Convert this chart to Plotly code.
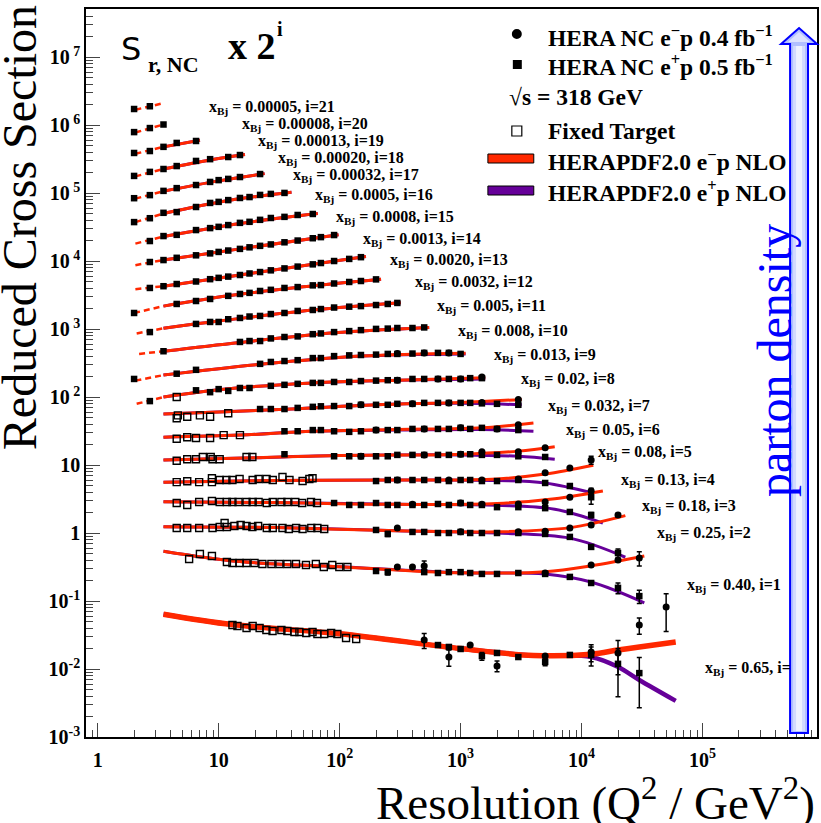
import plotly.graph_objects as go

# ---------------- data (sigma_r; plotted as sigma_r * 2^i) ----------------
BIN_I = [21, 20, 19, 18, 17, 16, 15, 14, 13, 12, 11, 10, 9, 8, 7, 6, 5, 4, 3, 2, 1, 0]
BIN_XBJ = ["0.00005", "0.00008", "0.00013", "0.00020", "0.00032", "0.0005", "0.0008",
           "0.0013", "0.0020", "0.0032", "0.005", "0.008", "0.013", "0.02", "0.032",
           "0.05", "0.08", "0.13", "0.18", "0.25", "0.40", "0.65"]
BIN_I_TEXT = ["21", "20", "19", "18", "17", "16", "15", "14", "13", "12", "11", "10",
              "9", "8", "7", "6", "5", "4", "3", "2", "1", ""]

# HERA NC e+p (filled squares)
EP_Q2 = [
    [2, 2.7],
    [2, 2.7, 3.5],
    [2, 2.7, 3.5, 4.5, 6.5],
    [2, 2.7, 3.5, 4.5, 6.5, 8.5, 12, 15],
    [2, 2.7, 3.5, 4.5, 6.5, 8.5, 10, 12, 15, 22],
    [2, 2.7, 3.5, 4.5, 6.5, 8.5, 10, 12, 15, 18, 22, 27, 35],
    [2.7, 3.5, 4.5, 6.5, 8.5, 10, 12, 15, 18, 22, 27, 35, 45, 60],
    [2.7, 3.5, 4.5, 6.5, 8.5, 10, 12, 15, 18, 22, 27, 35, 45, 60, 70, 90],
    [2.7, 3.5, 4.5, 6.5, 8.5, 10, 12, 15, 18, 22, 27, 35, 45, 60, 70, 90, 120, 150],
    [2, 4.5, 6.5, 8.5, 12, 15, 18, 22, 27, 35, 45, 60, 70, 90, 120, 150, 200],
    [2.7, 6.5, 8.5, 10, 12, 15, 18, 22, 27, 35, 45, 60, 70, 90, 120, 150, 200, 250, 300],
    [3.5, 15, 18, 22, 27, 35, 45, 60, 70, 90, 120, 150, 200, 250, 300, 400, 500],
    [2, 4.5, 6.5, 22, 27, 35, 45, 60, 70, 90, 120, 150, 200, 250, 300, 400, 500, 650, 800, 1000],
    [2.7, 6.5, 8.5, 10, 12, 15, 18, 27, 35, 45, 60, 70, 90, 120, 150, 200, 250, 300, 400, 500,
     650, 800, 1000, 1200, 1500],
    [22, 27, 35, 45, 60, 70, 90, 120, 150, 200, 250, 300, 400, 500, 650, 800, 1000, 1200, 1500,
     2000, 3000],
    [35, 45, 60, 70, 90, 120, 150, 200, 250, 300, 400, 500, 650, 800, 1000, 1200, 1500, 2000, 3000],
    [35, 90, 120, 150, 200, 250, 300, 400, 500, 650, 800, 1000, 1200, 1500, 2000, 3000, 5000],
    [200, 250, 300, 400, 500, 650, 800, 1000, 1200, 1500, 2000, 3000, 5000, 8000, 12000],
    [90, 120, 150, 200, 250, 300, 400, 500, 650, 800, 1000, 1200, 1500, 2000, 3000, 5000, 8000, 12000],
    [200, 250, 400, 500, 650, 800, 1000, 1200, 1500, 2000, 3000, 5000, 8000, 12000, 20000],
    [200, 250, 500, 650, 800, 1000, 1200, 1500, 2000, 3000, 5000, 8000, 12000, 20000, 30000],
    [650, 800, 1000, 1500, 2000, 3000, 5000, 8000, 12000, 20000, 30000],
]
EP_SIG = [
    [0.82, 0.90],
    [0.75, 0.86, 0.97],
    [0.74, 0.79, 0.91, 1.04, 1.11],
    [0.68, 0.78, 0.86, 0.95, 1.13, 1.20, 1.29, 1.38],
    [0.64, 0.71, 0.82, 0.90, 1.00, 1.11, 1.18, 1.23, 1.31, 1.45],
    [0.57, 0.65, 0.78, 0.80, 0.95, 1.09, 1.13, 1.20, 1.29, 1.33, 1.43, 1.48, 1.53],
    [0.60, 0.71, 0.74, 0.87, 0.93, 0.97, 1.03, 1.11, 1.15, 1.23, 1.31, 1.36, 1.45, 1.50],
    [0.59, 0.63, 0.68, 0.74, 0.79, 0.83, 0.87, 0.92, 0.97, 1.02, 1.07, 1.15, 1.22, 1.32, 1.37, 1.47],
    [0.49, 0.52, 0.56, 0.61, 0.66, 0.69, 0.72, 0.76, 0.80, 0.84, 0.89, 0.95, 1.01, 1.09, 1.14,
     1.22, 1.31, 1.39],
    [0.42, 0.57, 0.63, 0.675, 0.75, 0.80, 0.83, 0.885, 0.92, 0.98, 1.01, 1.07, 1.08, 1.14, 1.20,
     1.24, 1.31],
    [0.44, 0.58, 0.62, 0.62, 0.68, 0.71, 0.745, 0.76, 0.81, 0.84, 0.90, 0.93, 0.96, 1.01, 1.04,
     1.06, 1.10, 1.14, 1.18],
    [0.46, 0.63, 0.65, 0.65, 0.71, 0.745, 0.76, 0.82, 0.84, 0.88, 0.91, 0.94, 0.98, 0.99, 1.01,
     1.01, 1.03],
    [0.36, 0.43, 0.49, 0.60, 0.64, 0.66, 0.68, 0.73, 0.73, 0.78, 0.80, 0.81, 0.82, 0.84, 0.84,
     0.85, 0.87, 0.87, 0.87, 0.84],
    [0.34, 0.49, 0.46, 0.51, 0.48, 0.53, 0.53, 0.57, 0.59, 0.61, 0.63, 0.63, 0.65, 0.65, 0.67,
     0.68, 0.69, 0.69, 0.72, 0.72, 0.72, 0.72, 0.72, 0.74, 0.74],
    [0.52, 0.52, 0.52, 0.54, 0.56, 0.57, 0.575, 0.575, 0.60, 0.60, 0.60, 0.62, 0.62, 0.64, 0.64,
     0.64, 0.64, 0.64, 0.63, 0.62, 0.60],
    [0.49, 0.49, 0.51, 0.51, 0.49, 0.48, 0.49, 0.51, 0.51, 0.51, 0.53, 0.53, 0.53, 0.53, 0.55,
     0.53, 0.55, 0.53, 0.51],
    [0.45, 0.42, 0.42, 0.42, 0.42, 0.42, 0.44, 0.44, 0.44, 0.44, 0.44, 0.45, 0.45, 0.44, 0.44,
     0.42, 0.41],
    [0.363, 0.376, 0.376, 0.376, 0.376, 0.376, 0.363, 0.376, 0.376, 0.363, 0.363, 0.376, 0.34,
     0.307, 0.21],
    [0.345, 0.323, 0.323, 0.345, 0.323, 0.323, 0.323, 0.323, 0.334, 0.323, 0.345, 0.323, 0.323,
     0.30, 0.30, 0.29, 0.255, 0.23],
    [0.277, 0.242, 0.259, 0.259, 0.25, 0.25, 0.259, 0.25, 0.25, 0.25, 0.25, 0.242, 0.219, 0.156, 0.127],
    [0.138, 0.133, 0.133, 0.129, 0.133, 0.133, 0.129, 0.125, 0.125, 0.129, 0.125, 0.113, 0.092,
     0.078, 0.059],
    [0.0225, 0.0211, 0.0197, 0.0155, 0.0172, 0.015, 0.0127, 0.0161, 0.0161, 0.0119, 0.0087],
]
EP_ERR = [
    [], [], [], [], [], [], [], [], [], [], [], [], [], [], [], [], [],
    [0, 0, 0, 0, 0, 0, 0, 0, 0, 0, 0, 0, 0, 0, 0.045],
    [0, 0, 0, 0, 0, 0, 0, 0, 0, 0, 0, 0, 0, 0, 0, 0, 0, 0.02],
    [0, 0.02, 0, 0, 0, 0, 0, 0, 0, 0, 0, 0, 0, 0, 0.018],
    [0, 0.012, 0, 0, 0, 0, 0, 0, 0, 0, 0, 0, 0, 0.014, 0.013],
    [0, 0, 0, 0.002, 0, 0, 0.0015, 0, 0.005, 0.008, 0.006],
]

# HERA NC e-p (filled circles)
EM_Q2 = [
    [], [], [], [], [], [], [], [], [], [], [], [],
    [300, 500, 800],
    [300, 650, 1000, 1500],
    [150, 400, 800, 1500, 3000],
    [200, 500, 1000, 2000, 3000],
    [150, 500, 1000, 1500, 3000, 5000],
    [300, 800, 1500, 3000, 5000, 8000, 12000],
    [400, 1000, 1500, 3000, 5000, 8000, 12000],
    [300, 1000, 3000, 5000, 8000, 12000, 20000],
    [300, 400, 500, 5000, 12000, 20000, 30000],
    [500, 800, 1200, 2000, 5000, 12000, 20000, 30000, 50000],
]
EM_SIG = [
    [], [], [], [], [], [], [], [], [], [], [], [],
    [0.85, 0.87, 0.87],
    [0.69, 0.72, 0.72, 0.77],
    [0.60, 0.62, 0.64, 0.65, 0.72],
    [0.51, 0.53, 0.55, 0.53, 0.61],
    [0.42, 0.44, 0.45, 0.49, 0.49, 0.56],
    [0.376, 0.376, 0.376, 0.39, 0.48, 0.565, 0.74],
    [0.33, 0.345, 0.33, 0.335, 0.357, 0.42, 0.52],
    [0.296, 0.26, 0.26, 0.265, 0.296, 0.328, 0.46],
    [0.158, 0.158, 0.163, 0.129, 0.169, 0.20, 0.214],
    [0.0267, 0.015, 0.0225, 0.0111, 0.0155, 0.0178, 0.0172, 0.0444, 0.0816],
]
EM_ERR = [
    [], [], [], [], [], [], [], [], [], [], [], [],
    [], [], [], [], [],
    [0, 0, 0, 0, 0, 0, 0.1],
    [0, 0, 0, 0, 0, 0, 0.05],
    [0, 0, 0, 0, 0, 0, 0.03],
    [0, 0, 0.03, 0, 0, 0, 0.05],
    [0.0067, 0.004, 0, 0.002, 0, 0.005, 0.009, 0.012, 0.046],
]

# Fixed target (open squares)
FT_Q2 = [
    [], [], [], [], [], [], [], [], [], [], [], [], [],
    [4.5],
    [4.5, 4.6, 5.5, 7.0, 8.5, 12],
    [4.5, 5.5, 6.5, 8.5, 11, 15],
    [4.5, 5.5, 6.5, 7.4, 8.6, 8.9, 10.2, 17, 19],
    [4.5, 5.5, 6.9, 8.8, 8.8, 10.2, 11.6, 13, 14.9, 19.1, 21.4, 24.9, 28, 33.7, 38.5, 49.4, 56.2, 59.7],
    [4.5, 5.5, 6.9, 8.8, 10.2, 11.7, 13, 14.6, 17, 19.1, 21.4, 25, 28, 33, 37, 43, 49, 58, 65],
    [4.5, 5.5, 6.9, 8.9, 10.2, 11.2, 11.7, 13.5, 15.2, 17, 19, 21.2, 25, 28, 33.7, 38, 43.7, 49.4,
     58.3, 65.5, 74.6],
    [5.7, 7.0, 8.8, 11.7, 13, 14.9, 17, 19.8, 23, 27.3, 31.8, 37, 43.6, 52.7, 63.6, 74, 86.9, 99.4, 116],
    [13, 14.3, 17, 19.1, 21.8, 24.8, 27.9, 33, 37, 42.3, 46.5, 53, 59.7, 65.5, 74.6, 85.1, 95.8, 113, 137],
]
FT_SIG = [
    [], [], [], [], [], [], [], [], [], [], [], [], [],
    [0.39],
    [0.38, 0.42, 0.40, 0.42, 0.40, 0.45],
    [0.38, 0.40, 0.39, 0.39, 0.43, 0.43],
    [0.36, 0.38, 0.38, 0.41, 0.41, 0.38, 0.38, 0.41, 0.41],
    [0.35, 0.36, 0.35, 0.40, 0.35, 0.376, 0.376, 0.376, 0.39, 0.376, 0.39, 0.39, 0.376, 0.416,
     0.376, 0.363, 0.39, 0.40],
    [0.345, 0.323, 0.357, 0.37, 0.357, 0.357, 0.357, 0.357, 0.357, 0.357, 0.357, 0.345, 0.357,
     0.357, 0.357, 0.357, 0.345, 0.357, 0.345],
    [0.296, 0.296, 0.296, 0.296, 0.307, 0.35, 0.307, 0.317, 0.328, 0.317, 0.307, 0.317, 0.296,
     0.296, 0.296, 0.286, 0.296, 0.286, 0.296, 0.296, 0.286],
    [0.207, 0.245, 0.229, 0.187, 0.181, 0.181, 0.181, 0.181, 0.175, 0.175, 0.175, 0.175, 0.175,
     0.169, 0.175, 0.158, 0.169, 0.158, 0.158],
    [0.0444, 0.043, 0.0401, 0.043, 0.0401, 0.0375, 0.0363, 0.0375, 0.0363, 0.035, 0.035, 0.0339,
     0.035, 0.0327, 0.0327, 0.0339, 0.0327, 0.0286, 0.0276],
]

# HERAPDF2.0 NLO curves (nodes)
CURVE_Q2 = [
    [2.05, 3.5],
    [2.05, 3.5],
    [2.05, 3.5, 7.0],
    [2.05, 3.5, 8.5, 16.5],
    [2.05, 3.5, 10, 24],
    [2.05, 3.5, 12, 40],
    [2.05, 3.5, 15, 66],
    [2.05, 3.5, 15, 98],
    [2.05, 3.5, 20, 165],
    [2.0, 3.5, 12, 50, 220],
    [2.1, 3.5, 10, 60, 320],
    [2.2, 3.5, 15, 90, 550],
    [2.05, 3.5, 22, 150, 1100],
    [2.1, 3.5, 10, 60, 300, 1600],
    [3.5, 10, 40, 200, 1000, 3200],
    [3.5, 15, 60, 300, 1500, 4000],
    [3.5, 20, 100, 1000, 3000, 6000],
    [3.5, 30, 300, 2000, 5000, 12500],
    [3.5, 30, 300, 2000, 6000, 15000],
    [3.5, 30, 300, 2000, 8000, 23000],
    [3.5, 15, 100, 1000, 5000, 12000, 33000],
    [3.5, 13, 100, 1000, 4000, 12000, 20000, 30000, 60000],
]
CURVE_EM = [
    [0.80, 1.00],
    [0.74, 0.97],
    [0.72, 0.91, 1.14],
    [0.67, 0.86, 1.17, 1.40],
    [0.63, 0.81, 1.15, 1.47],
    [0.57, 0.76, 1.18, 1.56],
    [0.55, 0.70, 1.09, 1.52],
    [0.53, 0.63, 0.92, 1.49],
    [0.47, 0.52, 0.82, 1.42],
    [0.42, 0.53, 0.75, 1.02, 1.32],
    [0.42, 0.50, 0.64, 0.93, 1.19],
    [0.42, 0.46, 0.62, 0.86, 1.03],
    [0.34, 0.41, 0.59, 0.78, 0.86],
    [0.31, 0.39, 0.50, 0.63, 0.69, 0.75],
    [0.44, 0.47, 0.52, 0.60, 0.65, 0.72],
    [0.40, 0.43, 0.49, 0.52, 0.55, 0.65],
    [0.37, 0.40, 0.43, 0.45, 0.50, 0.58],
    [0.35, 0.37, 0.376, 0.39, 0.46, 0.62],
    [0.36, 0.35, 0.33, 0.34, 0.40, 0.52],
    [0.31, 0.30, 0.27, 0.26, 0.30, 0.45],
    [0.27, 0.19, 0.16, 0.13, 0.135, 0.165, 0.23],
    [0.064, 0.045, 0.033, 0.020, 0.0158, 0.0165, 0.019, 0.021, 0.025],
]
CURVE_EP = [
    None, None, None, None, None, None, None, None, None, None, None, None,
    [0.34, 0.41, 0.59, 0.78, 0.84],
    [0.31, 0.39, 0.50, 0.63, 0.69, 0.72],
    [0.44, 0.47, 0.52, 0.60, 0.63, 0.60],
    [0.40, 0.43, 0.49, 0.51, 0.52, 0.49],
    [0.37, 0.40, 0.43, 0.44, 0.42, 0.38],
    [0.35, 0.37, 0.376, 0.37, 0.34, 0.24],
    [0.36, 0.35, 0.33, 0.32, 0.28, 0.175],
    [0.31, 0.30, 0.27, 0.25, 0.21, 0.11],
    [0.27, 0.19, 0.16, 0.13, 0.125, 0.095, 0.047],
    [0.064, 0.045, 0.033, 0.020, 0.0158, 0.015, 0.0107, 0.0069, 0.0034],
]
Q2_FIT_MIN = 3.5

# axis tick labels
X_TICKS = [1, 10, 100, 1000, 10000, 100000]
X_TICKTEXT = ["<b>1</b>", "<b>10</b>", "<b>10<sup>2</sup></b>", "<b>10<sup>3</sup></b>",
              "<b>10<sup>4</sup></b>", "<b>10<sup>5</sup></b>"]
Y_TICKS = [1e-3, 1e-2, 1e-1, 1, 10, 1e2, 1e3, 1e4, 1e5, 1e6, 1e7]
Y_TICKTEXT = ["<b>10<sup>-3</sup></b>", "<b>10<sup>-2</sup></b>", "<b>10<sup>-1</sup></b>",
              "<b>1</b>", "<b>10</b>", "<b>10<sup> 2</sup></b>", "<b>10<sup> 3</sup></b>",
              "<b>10<sup> 4</sup></b>", "<b>10<sup> 5</sup></b>", "<b>10<sup> 6</sup></b>",
              "<b>10<sup> 7</sup></b>"]

# ---------------- layout helpers ----------------
W, H = 821, 823
ML, MR, MT, MB = 86, 2, 9, 86
PW, PH = W - ML - MR, H - MT - MB


def px(x):
    return (x - ML) / PW


def py(y):
    return (H - MB - y) / PH


RED = "rgb(255,40,0)"
PURPLE = "rgb(102,0,153)"
FONT = "Liberation Serif"

fig = go.Figure()

# curves
for k, i in enumerate(BIN_I):
    s = 2 ** i
    q = CURVE_Q2[k]
    em = CURVE_EM[k]
    ep = CURVE_EP[k] if CURVE_EP[k] is not None else em
    solid = [j for j, v in enumerate(q) if v >= Q2_FIT_MIN]
    dashed = [j for j, v in enumerate(q) if v <= Q2_FIT_MIN]
    wr = 5.5 if i == 0 else 3
    wp = 4.5 if i == 0 else 3
    if len(solid) >= 2:
        fig.add_trace(go.Scatter(x=[q[j] for j in solid], y=[ep[j] * s for j in solid],
                                 mode="lines", line=dict(color=PURPLE, width=wp, shape="spline"),
                                 showlegend=False, hoverinfo="skip"))
        fig.add_trace(go.Scatter(x=[q[j] for j in solid], y=[em[j] * s for j in solid],
                                 mode="lines", line=dict(color=RED, width=wr, shape="spline"),
                                 showlegend=False, hoverinfo="skip"))
    if len(dashed) >= 2:
        fig.add_trace(go.Scatter(x=[q[j] for j in dashed], y=[em[j] * s for j in dashed],
                                 mode="lines", line=dict(color=RED, width=2.5, dash="6px,4px"),
                                 showlegend=False, hoverinfo="skip"))

# data points
for k, i in enumerate(BIN_I):
    s = 2 ** i
    if FT_Q2[k]:
        fig.add_trace(go.Scatter(x=FT_Q2[k], y=[v * s for v in FT_SIG[k]], mode="markers",
                                 marker=dict(symbol="square-open", size=7, color="black",
                                             line=dict(width=1.4, color="black")),
                                 showlegend=False, hoverinfo="skip"))
    err = dict(type="data", array=[e * s for e in EP_ERR[k]], visible=True, color="black",
               thickness=1.5, width=2.5) if EP_ERR[k] else None
    fig.add_trace(go.Scatter(x=EP_Q2[k], y=[v * s for v in EP_SIG[k]], mode="markers",
                             marker=dict(symbol="square", size=6.5, color="black"),
                             error_y=err, showlegend=False, hoverinfo="skip"))
    if EM_Q2[k]:
        err = dict(type="data", array=[e * s for e in EM_ERR[k]], visible=True, color="black",
                   thickness=1.5, width=2.5) if EM_ERR[k] else None
        fig.add_trace(go.Scatter(x=EM_Q2[k], y=[v * s for v in EM_SIG[k]], mode="markers",
                                 marker=dict(symbol="circle", size=7, color="black"),
                                 error_y=err, showlegend=False, hoverinfo="skip"))

ann = []
shapes = []

# bin labels
LABEL_PX = [(207, 105), (240, 121), (256, 138), (277, 155), (292, 173), (314, 192), (335, 214),
            (362, 236), (389, 257), (414, 279), (436, 303), (457, 328), (493, 352), (520, 376),
            (547, 403), (565, 428), (597, 449), (620, 478), (642, 503), (657, 530), (687, 582),
            (705, 665)]
for k, i in enumerate(BIN_I):
    lx, ly = LABEL_PX[k]
    ann.append(dict(x=px(lx), y=py(ly + 3), xref="paper", yref="paper", xanchor="left",
                    yanchor="middle", showarrow=False,
                    text=f"<b>x<sub>Bj</sub> = {BIN_XBJ[k]}, i={BIN_I_TEXT[k]}</b>",
                    font=dict(family=FONT, size=16, color="black")))

# title inside plot
ann += [
    dict(x=px(119), y=py(48.5), text="S", font=dict(family="DejaVu Sans", size=32, color="black")),
    dict(x=px(146), y=py(64.5), text="<b>r, NC</b>", font=dict(family=FONT, size=22, color="black")),
    dict(x=px(226), y=py(46), text="<b>x 2</b>", font=dict(family=FONT, size=38, color="black")),
    dict(x=px(276), y=py(29), text="<b>i</b>", font=dict(family=FONT, size=20, color="black")),
]
for a in ann[-4:]:
    a.update(xref="paper", yref="paper", xanchor="left", yanchor="middle", showarrow=False)

# legend
LEG_TXT = [
    (547, 35.6, "<b>HERA NC e<sup>\u2212</sup>p 0.4 fb<sup>\u22121</sup></b>"),
    (547, 64.6, "<b>HERA NC e<sup>+</sup>p 0.5 fb<sup>\u22121</sup></b>"),
    (508, 96.6, "<b>\u221as = 318 GeV</b>"),
    (547, 130.6, "<b>Fixed Target</b>"),
    (547, 159.6, "<b>HERAPDF2.0 e<sup>\u2212</sup>p NLO</b>"),
    (547, 190.6, "<b>HERAPDF2.0 e<sup>+</sup>p NLO</b>"),
]
for x0, y0, t in LEG_TXT:
    ann.append(dict(x=px(x0), y=py(y0), xref="paper", yref="paper", xanchor="left",
                    yanchor="middle", showarrow=False, text=t,
                    font=dict(family=FONT, size=23.5, color="black")))


def rect(x0, y0, x1, y1, **kw):
    d = dict(type="rect", xref="paper", yref="paper", x0=px(x0), x1=px(x1), y0=py(y1), y1=py(y0))
    d.update(kw)
    return d


shapes.append(dict(type="circle", xref="paper", yref="paper", x0=px(513), x1=px(523),
                   y0=py(39), y1=py(29), fillcolor="black", line=dict(width=0)))
shapes.append(rect(514, 60, 523, 69, fillcolor="black", line=dict(width=0)))
shapes.append(rect(513, 126, 523, 136, fillcolor="white", line=dict(width=1.2, color="black")))
shapes.append(rect(489, 154, 535, 163, fillcolor=RED, line=dict(width=1, color="black")))
shapes.append(rect(489, 186, 535, 195, fillcolor=PURPLE, line=dict(width=1, color="black")))

# parton density arrow
pts = [(792, 733), (792, 44), (783, 44), (801, 28), (819, 44), (810, 44), (810, 733)]
path = "M " + " L ".join(f"{px(x):.5f},{py(y):.5f}" for x, y in pts) + " Z"
shapes.append(dict(type="path", xref="paper", yref="paper", path=path,
                   fillcolor="rgb(178,192,255)", line=dict(color="rgb(0,0,255)", width=2)))
shapes.append(rect(795, 46, 807, 731, fillcolor="rgb(210,218,255)", line=dict(width=0)))
shapes.append(rect(798, 46, 804, 731, fillcolor="rgb(238,241,255)", line=dict(width=0)))
pts2 = [(790, 42), (801, 32), (812, 42)]
path2 = "M " + " L ".join(f"{px(x):.5f},{py(y):.5f}" for x, y in pts2) + " Z"
shapes.append(dict(type="path", xref="paper", yref="paper", path=path2,
                   fillcolor="rgb(220,226,255)", line=dict(width=0)))

ann.append(dict(x=px(777), y=py(361), xref="paper", yref="paper", xanchor="center",
                yanchor="middle", showarrow=False, textangle=-90, text="parton density",
                font=dict(family=FONT, size=48, color="rgb(0,0,255)")))

# axis titles
ann.append(dict(x=px(19), y=py(228), xref="paper", yref="paper", xanchor="center",
                yanchor="middle", showarrow=False, textangle=-90, text="Reduced Cross Section",
                font=dict(family=FONT, size=48, color="black")))
ann.append(dict(x=px(819), y=py(800), xref="paper", yref="paper", xanchor="right",
                yanchor="middle", showarrow=False,
                text="Resolution (Q<sup>2</sup> / GeV<sup>2</sup>)",
                font=dict(family=FONT, size=47, color="black")))

axis_common = dict(type="log", showgrid=False, zeroline=False, showline=True, linecolor="black",
                   linewidth=1.5, mirror=True, ticks="inside", ticklen=14, tickwidth=1,
                   tickcolor="#444", tickmode="array",
                   minor=dict(ticks="inside", ticklen=7, tickwidth=1, tickcolor="#444",
                              showgrid=False, dtick="D1"),
                   tickfont=dict(family=FONT, size=20, color="black"))

fig.update_layout(
    width=W, height=H, margin=dict(l=ML, r=MR, t=MT, b=MB),
    paper_bgcolor="white", plot_bgcolor="white", showlegend=False,
    xaxis=dict(range=[-0.0965, 5.946], tickvals=X_TICKS, ticktext=X_TICKTEXT,
               ticklabelstandoff=4, **axis_common),
    yaxis=dict(range=[-3, 7.706], tickvals=Y_TICKS, ticktext=Y_TICKTEXT,
               ticklabelstandoff=0, **axis_common),
    annotations=ann, shapes=shapes,
)

fig.write_html("out.html")
